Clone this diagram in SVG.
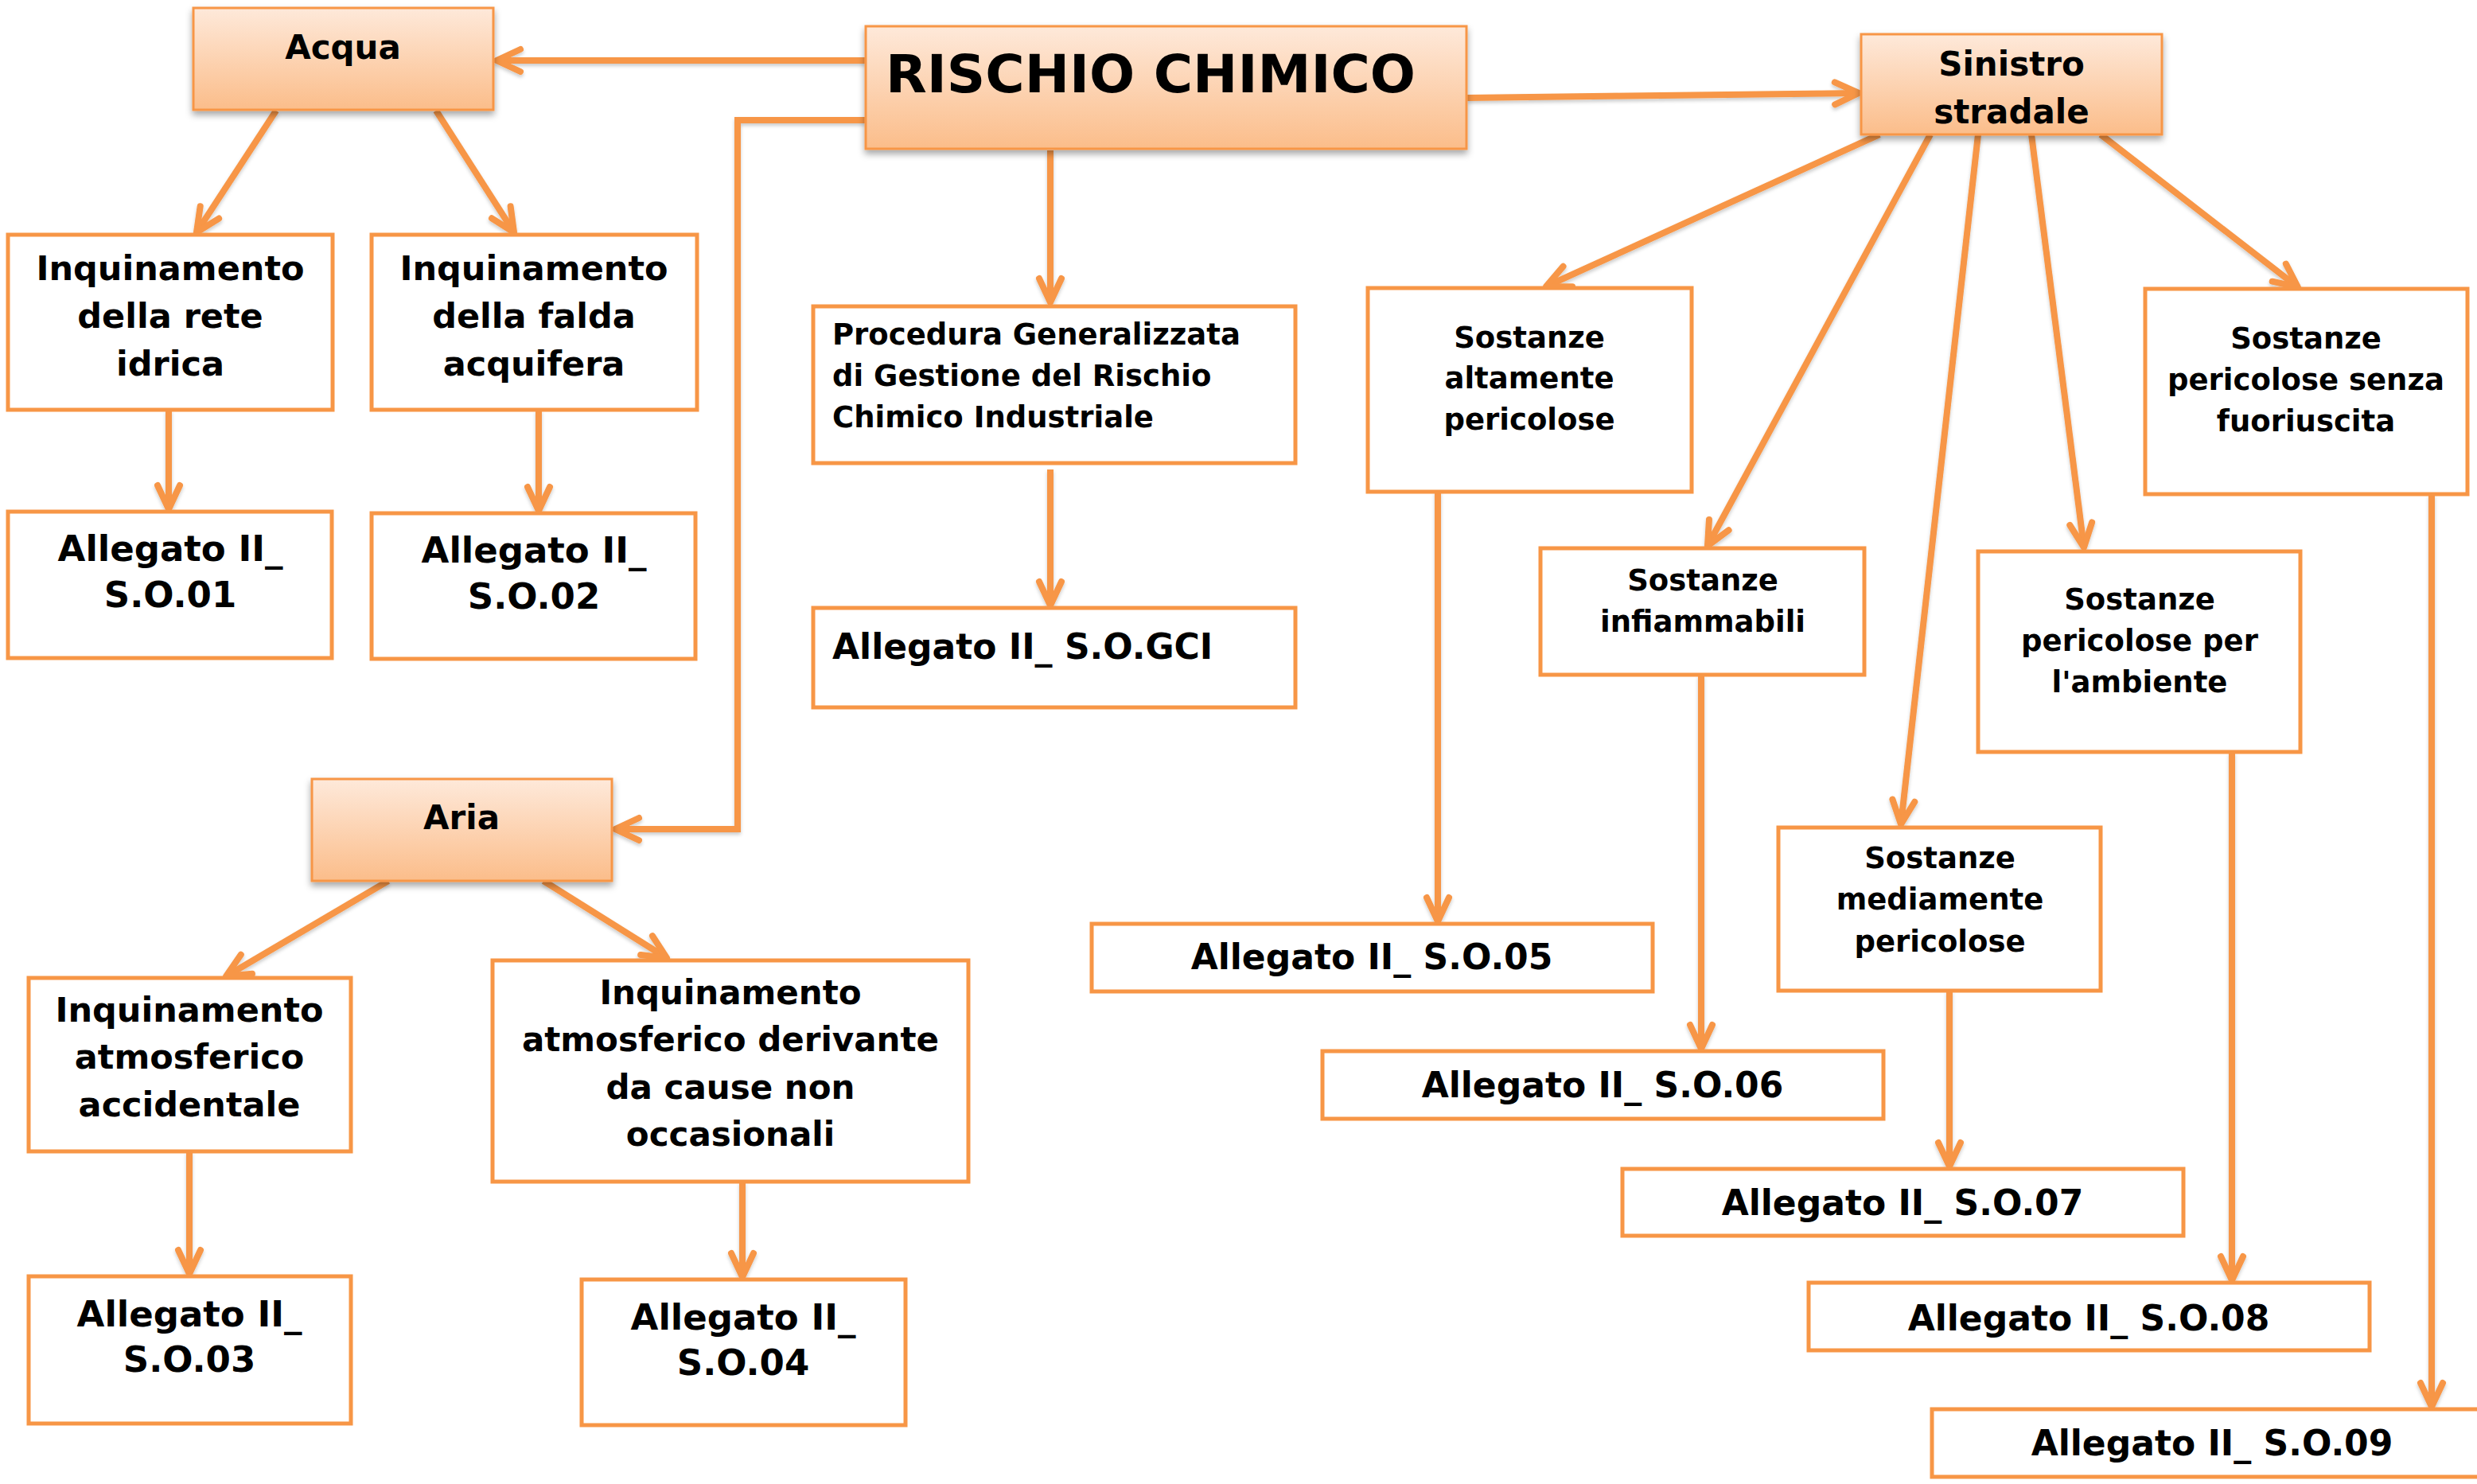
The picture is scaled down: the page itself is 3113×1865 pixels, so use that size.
<svg xmlns="http://www.w3.org/2000/svg" width="3113" height="1865" viewBox="0 0 3113 1865">
<defs>
<linearGradient id="hg" x1="0" y1="0" x2="0" y2="1">
<stop offset="0" stop-color="#FEE9DA"/>
<stop offset="1" stop-color="#FBBD8A"/>
</linearGradient>
<filter id="sh" x="-10%" y="-10%" width="120%" height="130%">
<feDropShadow dx="0" dy="5" stdDeviation="4" flood-color="#000" flood-opacity="0.35"/>
</filter>
<filter id="lsh" x="-10%" y="-10%" width="120%" height="120%">
<feDropShadow dx="0" dy="3" stdDeviation="2" flood-color="#000" flood-opacity="0.2"/>
</filter>
<marker id="ah" markerUnits="userSpaceOnUse" viewBox="-40 -24 48 48" refX="0" refY="0" markerWidth="48" markerHeight="48" orient="auto">
<path d="M-30,-14 L0,0 L-30,14" fill="none" stroke="#F79646" stroke-width="8" stroke-linecap="round" stroke-linejoin="round"/>
</marker>
<style>
.hdr{fill:url(#hg);stroke:#F79646;stroke-width:3;filter:url(#sh)}
.box{fill:#fff;stroke:#F79646;stroke-width:5}
.c{fill:none;stroke:#F79646;stroke-width:8;marker-end:url(#ah)}
text{font-family:"DejaVu Sans","Verdana",sans-serif;font-weight:bold;fill:#000}
.m{text-anchor:middle}
</style>
</defs>
<g id="connectors" filter="url(#lsh)">
<path class="c" d="M1088,76 L624,76"/>
<path class="c" d="M1088,151 L927,151 L927,1042 L773,1042"/>
<path class="c" d="M1320,189 L1320,380"/>
<path class="c" d="M1320,590 L1320,761"/>
<path class="c" d="M1844,123 L2336,117"/>
<path class="c" d="M347,139 L247,292"/>
<path class="c" d="M548,139 L646,292"/>
<path class="c" d="M212,515 L212,640"/>
<path class="c" d="M677,515 L677,642"/>
<path class="c" d="M488,1107 L284,1227"/>
<path class="c" d="M683,1107 L838,1204"/>
<path class="c" d="M238,1447 L238,1601"/>
<path class="c" d="M933,1485 L933,1605"/>
<path class="c" d="M2362,169 L1943,360"/>
<path class="c" d="M2426,169 L2146,686"/>
<path class="c" d="M2486,169 L2389,1036"/>
<path class="c" d="M2553,169 L2619,688"/>
<path class="c" d="M2640,169 L2888,361"/>
<path class="c" d="M1807,617 L1807,1158"/>
<path class="c" d="M2138,848 L2138,1318"/>
<path class="c" d="M2450,1245 L2450,1466"/>
<path class="c" d="M2805,945 L2805,1609"/>
<path class="c" d="M3056,621 L3056,1768"/>
</g>
<g id="n-acqua"><rect class="hdr" x="243" y="10" width="377" height="128"/><text class="m" x="431" y="74" font-size="42">Acqua</text></g>
<g id="n-rischio"><rect class="hdr" x="1088" y="33" width="755" height="154"/><text x="1113" y="116" font-size="66" textLength="666" lengthAdjust="spacingAndGlyphs">RISCHIO CHIMICO</text></g>
<g id="n-sinistro"><rect class="hdr" x="2339" y="43" width="378" height="126"/><text class="m" x="2528" y="95" font-size="42">Sinistro</text><text class="m" x="2528" y="155" font-size="42">stradale</text></g>
<g id="n-aria"><rect class="hdr" x="392" y="979" width="377" height="128"/><text class="m" x="580" y="1042" font-size="42">Aria</text></g>
<g id="n-rete"><rect class="box" x="10" y="295" width="408" height="220"/><text class="m" x="214" y="352" font-size="43">Inquinamento</text><text class="m" x="214" y="412" font-size="43">della rete</text><text class="m" x="214" y="472" font-size="43">idrica</text></g>
<g id="n-falda"><rect class="box" x="467" y="295" width="409" height="220"/><text class="m" x="671" y="352" font-size="43">Inquinamento</text><text class="m" x="671" y="412" font-size="43">della falda</text><text class="m" x="671" y="472" font-size="43">acquifera</text></g>
<g id="n-so01"><rect class="box" x="10" y="643" width="407" height="184"/><text class="m" x="214" y="705" font-size="45">Allegato II_</text><text class="m" x="214" y="763" font-size="45">S.O.01</text></g>
<g id="n-so02"><rect class="box" x="467" y="645" width="407" height="183"/><text class="m" x="671" y="707" font-size="45">Allegato II_</text><text class="m" x="671" y="765" font-size="45">S.O.02</text></g>
<g id="n-procedura"><rect class="box" x="1022" y="385" width="606" height="197"/><text x="1046" y="433" font-size="37">Procedura Generalizzata</text><text x="1046" y="485" font-size="37">di Gestione del Rischio</text><text x="1046" y="537" font-size="37">Chimico Industriale</text></g>
<g id="n-gci"><rect class="box" x="1022" y="764" width="606" height="125"/><text x="1046" y="828" font-size="44">Allegato II_ S.O.GCI</text></g>
<g id="n-accidentale"><rect class="box" x="36" y="1229" width="405" height="218"/><text class="m" x="238" y="1284" font-size="43">Inquinamento</text><text class="m" x="238" y="1343" font-size="43">atmosferico</text><text class="m" x="238" y="1403" font-size="43">accidentale</text></g>
<g id="n-derivante"><rect class="box" x="619" y="1207" width="598" height="278"/><text class="m" x="918" y="1262" font-size="42">Inquinamento</text><text class="m" x="918" y="1321" font-size="42">atmosferico derivante</text><text class="m" x="918" y="1381" font-size="42">da cause non</text><text class="m" x="918" y="1440" font-size="42">occasionali</text></g>
<g id="n-so03"><rect class="box" x="36" y="1604" width="405" height="185"/><text class="m" x="238" y="1667" font-size="45">Allegato II_</text><text class="m" x="238" y="1724" font-size="45">S.O.03</text></g>
<g id="n-so04"><rect class="box" x="731" y="1608" width="407" height="183"/><text class="m" x="934" y="1671" font-size="45">Allegato II_</text><text class="m" x="934" y="1728" font-size="45">S.O.04</text></g>
<g id="n-altamente"><rect class="box" x="1719" y="362" width="407" height="256"/><text class="m" x="1922" y="437" font-size="37">Sostanze</text><text class="m" x="1922" y="488" font-size="37">altamente</text><text class="m" x="1922" y="540" font-size="37">pericolose</text></g>
<g id="n-infiammabili"><rect class="box" x="1936" y="689" width="407" height="159"/><text class="m" x="2140" y="742" font-size="37">Sostanze</text><text class="m" x="2140" y="794" font-size="37">infiammabili</text></g>
<g id="n-mediamente"><rect class="box" x="2235" y="1040" width="405" height="205"/><text class="m" x="2438" y="1091" font-size="37">Sostanze</text><text class="m" x="2438" y="1143" font-size="37">mediamente</text><text class="m" x="2438" y="1196" font-size="37">pericolose</text></g>
<g id="n-ambiente"><rect class="box" x="2486" y="693" width="405" height="252"/><text class="m" x="2689" y="766" font-size="37">Sostanze</text><text class="m" x="2689" y="818" font-size="37">pericolose per</text><text class="m" x="2689" y="870" font-size="37">l'ambiente</text></g>
<g id="n-senza"><rect class="box" x="2696" y="363" width="405" height="258"/><text class="m" x="2898" y="438" font-size="37">Sostanze</text><text class="m" x="2898" y="490" font-size="37">pericolose senza</text><text class="m" x="2898" y="542" font-size="37">fuoriuscita</text></g>
<g id="n-so05"><rect class="box" x="1372" y="1161" width="705" height="85"/><text class="m" x="1724" y="1218" font-size="44">Allegato II_ S.O.05</text></g>
<g id="n-so06"><rect class="box" x="1662" y="1321" width="705" height="85"/><text class="m" x="2014" y="1379" font-size="44">Allegato II_ S.O.06</text></g>
<g id="n-so07"><rect class="box" x="2039" y="1469" width="705" height="84"/><text class="m" x="2391" y="1527" font-size="44">Allegato II_ S.O.07</text></g>
<g id="n-so08"><rect class="box" x="2273" y="1612" width="705" height="85"/><text class="m" x="2625" y="1672" font-size="44">Allegato II_ S.O.08</text></g>
<g id="n-so09"><rect class="box" x="2428" y="1771" width="705" height="85"/><text class="m" x="2780" y="1829" font-size="44">Allegato II_ S.O.09</text></g>
</svg>
